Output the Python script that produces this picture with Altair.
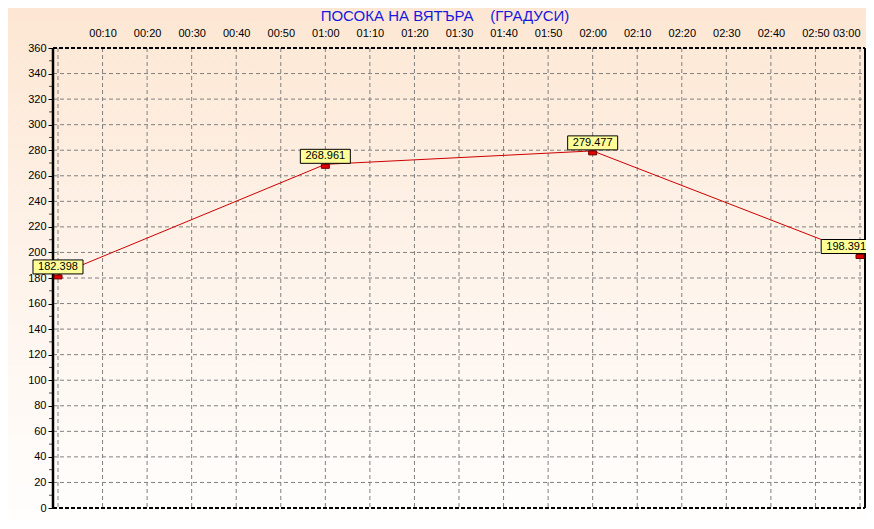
import altair as alt
import pandas as pd

# ---- data ----
minutes = [0, 60, 120, 180]
values = [182.398, 268.961, 279.477, 198.391]
labels = ["182.398", "268.961", "279.477", "198.391"]
x_ticks = list(range(0, 190, 10))
y_ticks = list(range(0, 380, 20))
y_minor = list(range(10, 360, 20))
title_text = "ПОСОКА НА ВЯТЪРА \u00a0\u00a0\u00a0(ГРАДУСИ)"

df = pd.DataFrame({"t": minutes, "v": values, "lab": labels})
minor_df = pd.DataFrame({"v": y_minor})
xgrid_df = pd.DataFrame({"t": x_ticks})
ygrid_df = pd.DataFrame({"v": y_ticks[1:-1]})
one = pd.DataFrame({"a": [0]})
title_df = pd.DataFrame({"txt": [title_text]})

W, H = 812, 460
PL, PT, PR, PB = 45, 40, 1, 13
FONT = "Liberation Sans"

xscale = alt.Scale(domain=[-1.12, 181.12], nice=False, zero=False)
yscale = alt.Scale(domain=[0, 360], nice=False, zero=False)

label_expr = ("datum.value == 0 ? '' : (floor(datum.value/60) < 10 ? '0' : '') + floor(datum.value/60) + ':' + "
              "(datum.value % 60 < 10 ? '0' : '') + (datum.value % 60)")

x_axis = alt.Axis(orient="top", values=x_ticks, labelExpr=label_expr,
                  title=None, domain=False, ticks=False, labelPadding=10,
                  labelAlign=alt.ExprRef(expr="datum.value >= 180 ? 'right' : 'center'"),
                  labelFont=FONT, labelFontSize=11, labelColor="#000000",
                  grid=False, zindex=1)
y_axis = alt.Axis(values=y_ticks, title=None, domain=False,
                  ticks=True, tickSize=5, tickColor="#000000",
                  labelPadding=2, labelFont=FONT, labelFontSize=11, labelColor="#000000",
                  grid=False, zindex=1)

def X(field="t"):
    return alt.X(field + ":Q", scale=xscale, axis=x_axis)

def Y():
    return alt.Y("v:Q", scale=yscale, axis=y_axis)

# keep the last value tag inside the visible page
tag_calc = "datum.t >= 180 ? datum.t - 3.1 : datum.t"

bg = alt.Chart(one).mark_rect(
    fill=alt.Gradient(gradient="linear", x1=0, x2=0, y1=0, y2=1,
                      stops=[alt.GradientStop(color="#FDE7D3", offset=0),
                             alt.GradientStop(color="#FEF3EA", offset=0.5),
                             alt.GradientStop(color="#FFFEFD", offset=1)])
).encode(x=alt.value(-PL), x2=alt.value(W + PR), y=alt.value(-PT), y2=alt.value(H + PB))

xgrid = alt.Chart(xgrid_df).mark_rule(color="#808080", strokeWidth=1, strokeDash=[4, 3]).encode(
    x=X(), y=alt.value(0), y2=alt.value(H))
ygrid = alt.Chart(ygrid_df).mark_rule(color="#808080", strokeWidth=1, strokeDash=[4, 3]).encode(
    y=Y(), x=alt.value(0), x2=alt.value(W))

top_border = alt.Chart(one).mark_rule(color="#000000", strokeWidth=2, strokeDash=[4, 2]).encode(
    x=alt.value(0), x2=alt.value(W), y=alt.value(0))
bottom_border = alt.Chart(one).mark_rule(color="#000000", strokeWidth=2, strokeDash=[4, 2]).encode(
    x=alt.value(0), x2=alt.value(W), y=alt.value(H))
right_border = alt.Chart(one).mark_rule(color="#000000", strokeWidth=2).encode(
    x=alt.value(W), y=alt.value(0), y2=alt.value(H))
left_axis = alt.Chart(one).mark_rule(color="#000000", strokeWidth=2.5).encode(
    x=alt.value(0), y=alt.value(0), y2=alt.value(H))

line = alt.Chart(df).mark_line(color="#CC0000", strokeWidth=1).encode(x=X(), y=Y())

minor = alt.Chart(minor_df).mark_tick(orient="horizontal", size=3, thickness=1, color="#000000").encode(
    y=Y(), x=alt.value(-2.5))

markers = alt.Chart(df).mark_point(
    shape="M-1,-0.5L1,-0.5L1,0.5L-1,0.5Z", size=64, filled=True,
    fill="#E00000", stroke="#700000", strokeWidth=1, opacity=1, yOffset=2
).encode(x=X(), y=Y())

boxes = alt.Chart(df).transform_calculate(tt=tag_calc).mark_point(
    shape="M-1,-0.28L1,-0.28L1,0.28L-1,0.28Z", size=2500, filled=True,
    fill="#FFFF99", stroke="#000000", strokeWidth=1, opacity=1, yOffset=-8
).encode(x=X("tt"), y=Y())

texts = alt.Chart(df).transform_calculate(tt=tag_calc).mark_text(
    font=FONT, fontSize=11, color="#000000", align="center", baseline="middle", yOffset=-8
).encode(x=X("tt"), y=Y(), text="lab:N")

title = alt.Chart(title_df).mark_text(
    font=FONT, fontSize=15, color="#1818E0", align="center", baseline="middle"
).encode(x=alt.value(392), y=alt.value(-32), text="txt:N")

chart = alt.layer(
    bg, xgrid, ygrid, top_border, bottom_border, right_border,
    left_axis, line, minor, markers, boxes, texts, title
).properties(
    width=W, height=H,
    autosize=alt.AutoSizeParams(type="none"),
    padding={"left": PL, "top": PT, "right": PR, "bottom": PB},
).configure_view(stroke=None).configure(background="#FFFFFF")

chart.save("out.html", embed_options={"renderer": "svg", "actions": False})
